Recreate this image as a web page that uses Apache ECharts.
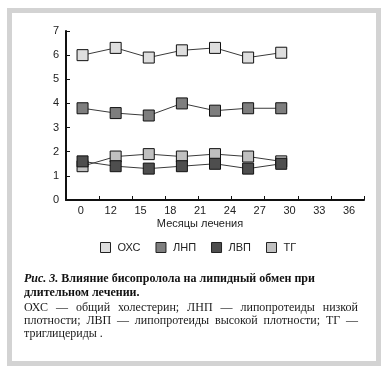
<!DOCTYPE html>
<html><head><meta charset="utf-8">
<script src="https://cdn.jsdelivr.net/npm/echarts@6/dist/echarts.min.js"></script>
<style>
html,body{margin:0;padding:0;background:#fff;}
#frame{position:absolute;left:7px;top:8px;width:364px;height:348px;border:5px solid #d3d3d3;background:#fff;}
#chart{position:absolute;left:0;top:0;width:386px;height:372px;}
</style></head>
<body>
<div id="frame"></div>
<div id="chart"></div>
<script>
// band slots on the x axis (points sit in the first seven)
const months = ['0','12','15','18','21','24','27','30','33'];
// tick labels printed under the axis
const tickLabels = ['0','12','15','18','21','24','27','30','33','36'];
const seriesNames = ['ОХС','ЛНП','ЛВП','ТГ'];
const ohs = [6.0, 6.3, 5.9, 6.2, 6.3, 5.9, 6.1];
const lnp = [3.8, 3.6, 3.5, 4.0, 3.7, 3.8, 3.8];
const lvp = [1.6, 1.4, 1.3, 1.4, 1.5, 1.3, 1.5];
const tg  = [1.4, 1.8, 1.9, 1.8, 1.9, 1.8, 1.6];
const fills = ['#dedede', '#7e7e7e', '#4e4e4e', '#c0c0c0'];
const xName = 'Месяцы лечения';
const captionTitleA = 'Рис. 3.';
const captionTitleB = ' Влияние бисопролола на липидный обмен при';
const captionTitle2 = 'длительном лечении.';
const captionLines = [
  'ОХС — общий холестерин; ЛНП — липопротеиды низкой',
  'плотности; ЛВП — липопротеиды высокой плотности; ТГ —'
];
const captionLast = 'триглицериды .';

const serifFont = '12px "Liberation Serif"';
const boldFont = 'bold 12px "Liberation Serif"';
const boldItFont = 'italic bold 12px "Liberation Serif"';
const ctx = document.createElement('canvas').getContext('2d');
function measure(t, f) { ctx.font = f; return ctx.measureText(t).width; }
function justified(text, x0, width, y) {
  const words = text.split(' ');
  const ws = words.map(w => measure(w, serifFont));
  const sum = ws.reduce((a, b) => a + b, 0);
  const gap = (width - sum) / (words.length - 1);
  const out = [];
  let x = x0;
  words.forEach((w, i) => {
    out.push({type:'text', x: x, y: y, style:{text: w, font: serifFont, fill:'#1a1a1a', verticalAlign:'middle'}});
    x += ws[i] + gap;
  });
  return out;
}

const graphics = [
  {type:'text', x:24, y:279, style:{
    text:'{a|' + captionTitleA + '}{b|' + captionTitleB + '}',
    verticalAlign:'middle',
    rich:{
      a:{font: boldItFont, fill:'#111'},
      b:{font: boldFont, fill:'#111'}
    }}},
  {type:'text', x:24, y:293, style:{text: captionTitle2, font: boldFont, fill:'#111', verticalAlign:'middle'}}
];
graphics.push(...justified(captionLines[0], 24, 334, 308));
graphics.push(...justified(captionLines[1], 24, 334, 321));
graphics.push({type:'text', x:24, y:334, style:{text: captionLast, font: serifFont, fill:'#1a1a1a', verticalAlign:'middle'}});

const dataSets = [ohs, lnp, lvp, tg];
const series = dataSets.map((d, i) => ({
  name: seriesNames[i],
  type: 'line',
  xAxisIndex: 0,
  data: d,
  symbol: 'rect',
  symbolSize: 11,
  z: i === 2 ? 5 : (i === 3 ? 4 : 3),
  lineStyle: {color:'#3a3a3a', width:1},
  itemStyle: {color: fills[i], borderColor:'#111', borderWidth:1, opacity:1},
  emphasis: {disabled:true},
  animation: false
}));

const chart = echarts.init(document.getElementById('chart'), null, {renderer:'canvas'});
chart.setOption({
  backgroundColor: 'transparent',
  animation: false,
  grid: {left:66, right:22, top:31, bottom:172, containLabel:false},
  xAxis: [
    {type:'category', data: months, position:'bottom', boundaryGap:true,
     axisLine:{show:true, lineStyle:{color:'#111', width:2}},
     axisTick:{show:true, inside:true, length:4, interval:0, lineStyle:{color:'#111', width:1}},
     axisLabel:{show:false}, splitLine:{show:false}},
    {type:'category', data: tickLabels, position:'bottom', boundaryGap:true,
     axisLine:{show:false}, axisTick:{show:false}, splitLine:{show:false},
     axisLabel:{show:true, interval:0, margin:5, color:'#222', fontFamily:'Liberation Sans', fontSize:11},
     name: xName, nameLocation:'middle', nameGap:18,
     nameTextStyle:{color:'#222', fontFamily:'Liberation Sans', fontSize:11, padding:[0,30,0,0], verticalAlign:'top'}}
  ],
  yAxis: {type:'value', min:0, max:7, interval:1,
    axisLine:{show:true, lineStyle:{color:'#111', width:2}},
    axisTick:{show:true, inside:true, length:4, lineStyle:{color:'#111', width:1}},
    axisLabel:{color:'#222', fontFamily:'Liberation Sans', fontSize:11, margin:7},
    splitLine:{show:false}},
  legend: {
    data: seriesNames.map((n, i) => ({name: n, itemStyle:{color: fills[i], borderColor:'#222', borderWidth:1}})),
    left: 100, top: 242, padding: 0, icon:'rect', itemWidth:10, itemHeight:10, itemGap:15,
    itemStyle:{borderColor:'#222', borderWidth:1},
    textStyle:{color:'#222', fontFamily:'Liberation Sans', fontSize:11, padding:[0,0,0,2]},
    selectedMode:false
  },
  graphic: graphics,
  series: series
});
</script>
</body></html>
